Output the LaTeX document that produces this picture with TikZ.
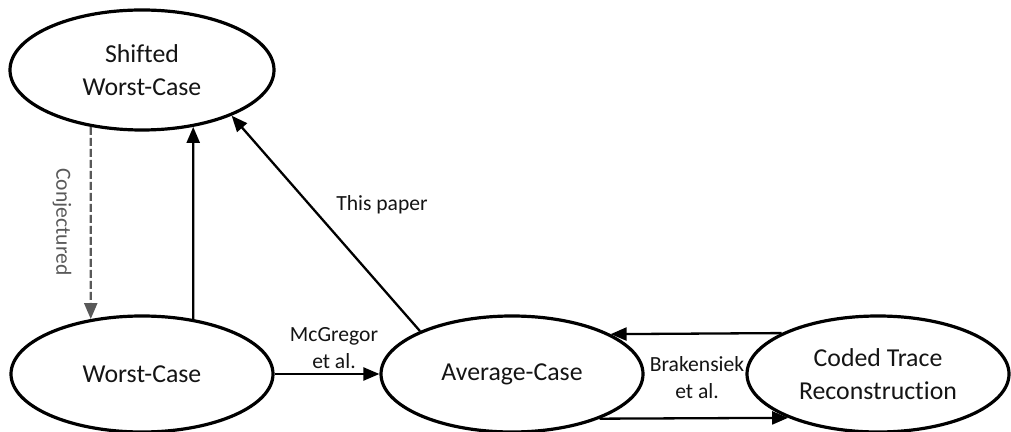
\documentclass[tikz,border=0pt]{standalone}
\usepackage{fontspec}
\setmainfont{Carlito}[Ligatures={NoCommon}]
\usetikzlibrary{shapes.geometric,arrows.meta}
\definecolor{dgray}{RGB}{89,89,89}
\definecolor{txt}{RGB}{20,20,20}
\begin{document}
\begin{tikzpicture}[x=0.5pt,y=-0.5pt,
  ell/.style={draw, ellipse, line width=1.6pt, minimum width=131pt, minimum height=58pt, inner sep=0pt, align=center, text=txt, font=\fontsize{12.9pt}{16.5pt}\selectfont},
  conn/.style={line width=1.15pt, -{Triangle[length=8pt,width=6.5pt]}},
  lab/.style={align=center, text=txt, font=\fontsize{10.8pt}{13.5pt}\selectfont}]
\useasboundingbox (0,0) rectangle (1011,432);
\node[ell, minimum height=60pt, minimum width=132pt] (shift) at (142,70) {Shifted\\Worst-Case};
\node[ell] (worst) at (142,374) {Worst-Case};
\node[ell] (avg) at (512,374) {Average-Case};
\node[ell] (coded) at (878,374) {Coded Trace\\Reconstruction};
\draw[conn, dgray, dash pattern=on 4pt off 1.5pt] (shift.228) -- (worst.133);
\draw[conn] (worst.47) -- (shift.312);
\draw[conn] (avg.155.5) -- (shift.333.4);
\draw[conn] (worst) -- (avg);
\draw[conn] (coded.157.1) -- (avg.22.9);
\draw[conn] (avg.333.9) -- (coded.206.1);
\node[lab, text=dgray, rotate=-90] (conjlab) at (62,222) {Conjectured};
\node[lab] (paperlab) at (382,205) {This paper};
\node[lab] (mcglab) at (334,348) {McGregor\\et al.};
\node[lab] (braklab) at (697,378) {Brakensiek\\et al.};
\end{tikzpicture}
\end{document}
